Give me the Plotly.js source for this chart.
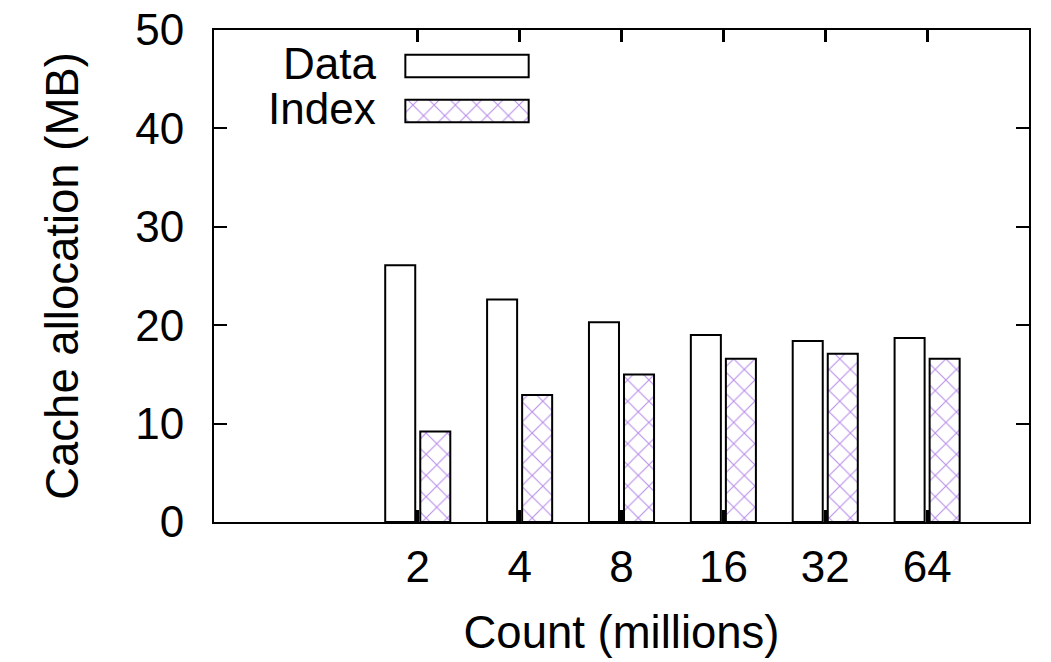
<!DOCTYPE html>
<html>
<head>
<meta charset="utf-8">
<script src="https://cdn.plot.ly/plotly-3.0.1.min.js"></script>
<style>
  html, body { margin: 0; padding: 0; background: #ffffff; }
  #chart { width: 1051px; height: 662px; }
</style>
</head>
<body>
<div id="chart"></div>
<script>
// ---- data ----
const categories = ['2', '4', '8', '16', '32', '64'];
const dataValues = [26.1, 22.6, 20.3, 19.0, 18.4, 18.7];
const indexValues = [9.2, 12.9, 15.0, 16.6, 17.1, 16.6];
const yTickValues = [0, 10, 20, 30, 40, 50];
const seriesNames = ['Data', 'Index'];
const xTitle = 'Count (millions)';
const yTitle = 'Cache allocation (MB)';

const FONT = '"Liberation Sans", Arial, Helvetica, sans-serif';
const patternColor = '#9a5ee0';
const hatch = { shape: 'x', fgcolor: patternColor, bgcolor: '#ffffff', size: 15, solidity: 0.14, fgopacity: 0.7 };

const traces = [
  {
    type: 'bar', name: seriesNames[0], x: categories, y: dataValues,
    marker: { color: '#ffffff', line: { color: '#000000', width: 2 } },
    showlegend: false, hoverinfo: 'x+y'
  },
  {
    type: 'bar', name: seriesNames[1], x: categories, y: indexValues,
    marker: { color: '#ffffff', line: { color: '#000000', width: 2 }, pattern: hatch },
    showlegend: false, hoverinfo: 'x+y'
  },
  // legend samples, drawn on a small overlay subplot
  {
    type: 'bar', orientation: 'h', x: [1], y: [1], width: 0.5, base: 0,
    xaxis: 'x2', yaxis: 'y2', showlegend: false, hoverinfo: 'skip',
    marker: { color: '#ffffff', line: { color: '#000000', width: 2 } }
  },
  {
    type: 'bar', orientation: 'h', x: [1], y: [0], width: 0.5, base: 0,
    xaxis: 'x2', yaxis: 'y2', showlegend: false, hoverinfo: 'skip',
    marker: { color: '#ffffff', line: { color: '#000000', width: 2 }, pattern: hatch }
  }
];

const layout = {
  width: 1051, height: 662,
  margin: { l: 214, r: 22, t: 30, b: 140, pad: 0 },
  paper_bgcolor: '#ffffff', plot_bgcolor: '#ffffff',
  font: { family: FONT, size: 44, color: '#000000' },
  barmode: 'group', bargap: 0.312, bargroupgap: 0.143,
  showlegend: false,
  xaxis: {
    type: 'category', categoryorder: 'array', categoryarray: categories,
    range: [-2, 6], autorange: false,
    showline: true, linecolor: '#000000', linewidth: 2, mirror: 'ticks',
    ticks: 'inside', ticklen: 12, tickwidth: 3, tickcolor: '#000000',
    showgrid: false, zeroline: false, fixedrange: true,
    tickfont: { family: FONT, size: 44, color: '#000000' },
    ticklabelstandoff: 5,
    title: { text: xTitle, font: { family: FONT, size: 45.5, color: '#000000' }, standoff: 26 }
  },
  yaxis: {
    range: [0, 50], autorange: false,
    tickmode: 'array', tickvals: yTickValues, ticktext: yTickValues.map(String),
    showline: true, linecolor: '#000000', linewidth: 2, mirror: 'ticks',
    ticks: 'inside', ticklen: 13, tickwidth: 2, tickcolor: '#000000',
    showgrid: false, zeroline: false, fixedrange: true,
    tickfont: { family: FONT, size: 44, color: '#000000' },
    ticklabelstandoff: 19,
    title: { text: yTitle, font: { family: FONT, size: 45.5, color: '#000000' }, standoff: 42 }
  },
  xaxis2: {
    domain: [0.2311, 0.3898], range: [-0.0243, 1.0243], anchor: 'y2',
    visible: false, fixedrange: true
  },
  yaxis2: {
    domain: [0.8055, 0.9553], range: [-0.326, 1.309], anchor: 'x2',
    visible: false, fixedrange: true
  },
  annotations: [
    { xref: 'paper', yref: 'paper', x: (378 - 214) / 815, y: (522 - 64) / 492,
      xanchor: 'right', yanchor: 'middle', showarrow: false, text: seriesNames[0],
      font: { family: FONT, size: 44, color: '#000000' } },
    { xref: 'paper', yref: 'paper', x: (378 - 214) / 815, y: (522 - 109) / 492,
      xanchor: 'right', yanchor: 'middle', showarrow: false, text: seriesNames[1],
      font: { family: FONT, size: 44, color: '#000000' } }
  ]
};

Plotly.newPlot('chart', traces, layout, { displayModeBar: false, staticPlot: true });
</script>
</body>
</html>
